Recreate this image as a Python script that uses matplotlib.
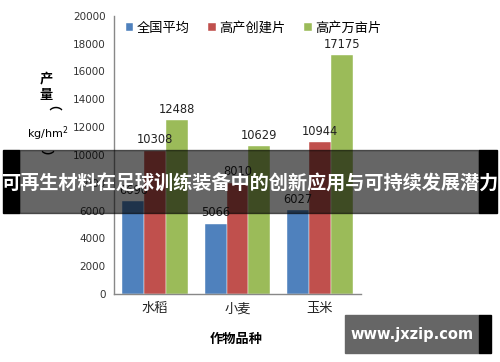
import matplotlib
matplotlib.use("Agg")
import matplotlib.pyplot as plt
from matplotlib.patches import Rectangle
import numpy as np

plt.rcParams['font.family'] = ['Noto Sans CJK SC', 'DejaVu Sans']

categories = ["水稻", "小麦", "玉米"]
series_names = ["全国平均", "高产创建片", "高产万亩片"]
national = [6690, 5066, 6027]
high_yield = [10308, 8010, 10944]
high_yield_wan = [12488, 10629, 17175]
colors = ["#4F81BD", "#C0504D", "#9BBB59"]
yticks = [0, 2000, 4000, 6000, 8000, 10000, 12000, 14000, 16000, 18000, 20000]

W, H = 500, 362
fig = plt.figure(figsize=(5, 3.62), dpi=100)
ax = fig.add_axes([114/W, 1-294/H, (361-114)/W, (294-15.7)/H])

x = np.arange(len(categories))
bw = 0.265
all_series = [national, high_yield, high_yield_wan]
for i, (vals, c, name) in enumerate(zip(all_series, colors, series_names)):
    pos = x + (i-1)*bw
    ax.bar(pos, vals, bw, color=c, label=name, edgecolor='white', linewidth=0.3)
    for p, v in zip(pos, vals):
        ax.annotate(str(v), (p, v), xytext=(0, 3), textcoords='offset points',
                    ha='center', va='bottom', fontsize=8.3, color='#222222',
                    family='DejaVu Sans')

ax.set_xlim(-0.5, 2.5)
ax.set_ylim(0, 20000)
ax.set_yticks(yticks)
ax.set_yticklabels([str(t) for t in yticks], fontsize=7.5, color='#333333', family='DejaVu Sans')
ax.set_xticks(x)
ax.set_xticklabels(categories, fontsize=9.5, color='#222222')
ax.tick_params(axis='both', length=0, pad=6)
ax.tick_params(axis='x', pad=6)
for s in ['top', 'right']:
    ax.spines[s].set_visible(False)
for s in ['left', 'bottom']:
    ax.spines[s].set_color('#888888')
    ax.spines[s].set_linewidth(1)

leg = ax.legend(loc='upper left', bbox_to_anchor=(0.01, 1.012), ncol=3, frameon=False,
                fontsize=9.5, handlelength=0.55, handleheight=0.55, handletextpad=0.3,
                columnspacing=1.4, borderaxespad=0.3)

fig.text(236/W, 1-339/H, "作物品种", ha='center', va='center', fontsize=9.5, fontweight='bold')

# y label stacked
fig.text(46/W, 1-78/H, "产", ha='center', va='center', fontsize=9.5, fontweight='bold')
fig.text(46/W, 1-95/H, "量", ha='center', va='center', fontsize=9.5, fontweight='bold')
fig.text(46/W, 1-112/H, "（", ha='center', va='center', fontsize=9.5, fontweight='bold', rotation=-90)
fig.text(48/W, 1-134/H, "kg/hm$^2$", ha='center', va='center', fontsize=8, family='DejaVu Sans')
fig.text(46/W, 1-156/H, "）", ha='center', va='center', fontsize=9.5, fontweight='bold', rotation=-90)

# banner overlay
fig.patches.append(Rectangle((3/W, 1-213/H), (19-3)/W, (213-150)/H, transform=fig.transFigure,
                             color='black', zorder=10))
fig.patches.append(Rectangle((479/W, 1-213/H), (497-479)/W, (213-150)/H, transform=fig.transFigure,
                             color='black', zorder=10))
fig.patches.append(Rectangle((19/W, 1-213/H), (479-19)/W, (213-150)/H, transform=fig.transFigure,
                             color='black', alpha=0.6, zorder=10))
fig.text(250/W, 1-184/H, "可再生材料在足球训练装备中的创新应用与可持续发展潜力", ha='center', va='center',
         fontsize=13.8, fontweight='bold', color='white', zorder=11)

# watermark
fig.patches.append(Rectangle((345/W, 1-353/H), (479-345)/W, (353-315)/H, transform=fig.transFigure,
                             color='#666666', zorder=10))
fig.patches.append(Rectangle((479/W, 1-353/H), (491-479)/W, (353-315)/H, transform=fig.transFigure,
                             color='black', zorder=10))
fig.text(412/W, 1-334/H, "www.jxzip.com", ha='center', va='center', fontsize=10.5, fontweight='bold',
         color='white', zorder=11, family='DejaVu Sans')

fig.savefig("out.png", dpi=100)
